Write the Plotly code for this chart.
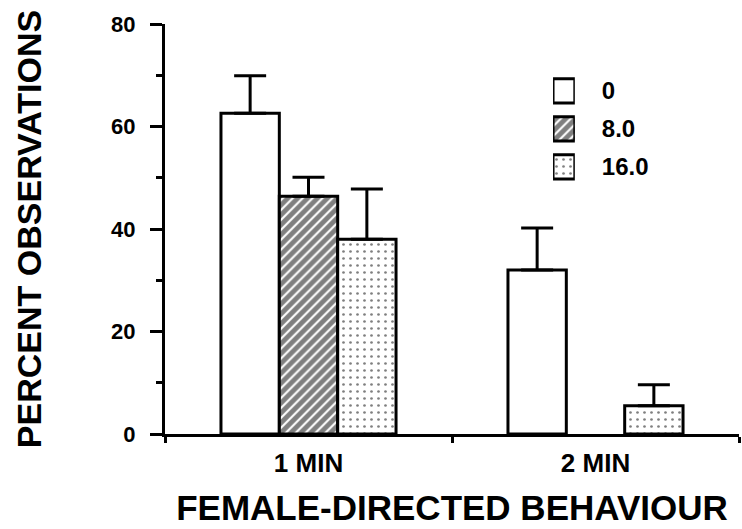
import plotly.graph_objects as go

# ---- data ----
categories = ["1 MIN", "2 MIN"]
doses = ["0", "8.0", "16.0"]
vals_0 = [62.6, 32.0]
vals_8 = [46.4, None]
vals_16 = [38.0, 5.5]
err_0 = [7.3, 8.2]
err_8 = [3.7, None]
err_16 = [9.8, 4.1]
y_ticks = [0, 20, 40, 60, 80]

FONT = "Liberation Sans, Arial, Helvetica, sans-serif"
BLACK = "black"

pattern_styles = {
    "0": dict(shape="", size=8, solidity=0.5),
    "8.0": dict(shape="/", size=7, solidity=0.7),
    "16.0": dict(shape=".", size=7, solidity=0.12),
}

series = [("0", vals_0, err_0), ("8.0", vals_8, err_8), ("16.0", vals_16, err_16)]

fig = go.Figure()
for name, vals, errs in series:
    fig.add_trace(go.Bar(
        x=categories, y=vals, name=name,
        marker=dict(color="white", line=dict(color=BLACK, width=3),
                    pattern=dict(fgcolor=BLACK, bgcolor="white",
                                 **pattern_styles[name])),
        error_y=dict(type="data", array=errs, arrayminus=[0] * len(errs),
                     symmetric=False, color=BLACK, thickness=3, width=16),
        showlegend=False,
    ))

# legend drawn as a small patterned bar chart with labels as tick text
fig.add_trace(go.Bar(
    y=doses, x=[1] * len(doses), orientation="h", width=0.64,
    xaxis="x2", yaxis="y2", showlegend=False, hoverinfo="skip",
    marker=dict(color="white", line=dict(color=BLACK, width=3),
                pattern=dict(shape=[pattern_styles[d]["shape"] for d in doses],
                             fgcolor=BLACK, bgcolor="white",
                             size=[pattern_styles[d]["size"] for d in doses],
                             solidity=[pattern_styles[d]["solidity"] for d in doses])),
))

fig.update_layout(
    width=742, height=529,
    margin=dict(l=165, r=3, t=24, b=95),
    paper_bgcolor="white", plot_bgcolor="white",
    barmode="group", bargap=0.39, bargroupgap=0,
    font=dict(family=FONT, color=BLACK),
    xaxis=dict(
        type="category", range=[-0.5, 1.5], tickson="boundaries",
        ticks="outside", ticklen=6, tickwidth=3, tickcolor=BLACK,
        showline=True, linewidth=3, linecolor=BLACK, showgrid=False,
        tickfont=dict(size=26, family=FONT, weight="bold"),
        ticklabelstandoff=4,
        title=dict(text="FEMALE-DIRECTED BEHAVIOUR",
                   font=dict(size=35, family=FONT, weight="bold"), standoff=19),
    ),
    yaxis=dict(
        range=[0, 80], tickvals=y_ticks, ticks="outside", ticklen=12,
        tickwidth=3, tickcolor=BLACK,
        minor=dict(dtick=10, ticks="outside", ticklen=6, tickwidth=3,
                   tickcolor=BLACK, showgrid=False),
        showline=True, linewidth=3, linecolor=BLACK, showgrid=False,
        zeroline=False,
        tickfont=dict(size=22, family=FONT, weight="bold"),
        ticklabelstandoff=10,
        title=dict(text="PERCENT OBSERVATIONS",
                   font=dict(size=34, family=FONT, weight="bold"), standoff=60),
    ),
    xaxis2=dict(domain=[0.676, 0.714], anchor="y2", range=[0, 1],
                showgrid=False, showline=False, zeroline=False,
                showticklabels=False, ticks=""),
    yaxis2=dict(domain=[0.605, 0.883], anchor="x2", type="category",
                categoryorder="array", categoryarray=doses, autorange="reversed",
                side="right", showgrid=False, showline=False, zeroline=False,
                ticks="", ticklabelstandoff=26,
                tickfont=dict(size=24, family=FONT, weight="bold")),
)

fig.write_html("out.html")
